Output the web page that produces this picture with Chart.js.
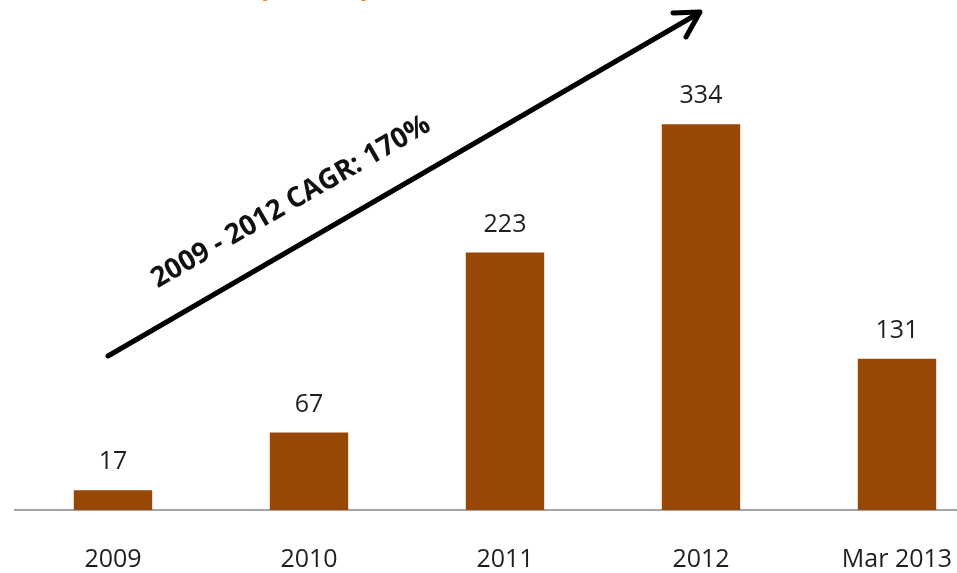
<!DOCTYPE html>
<html>
<head>
<meta charset="utf-8">
<script src="https://cdn.jsdelivr.net/npm/chart.js@4/dist/chart.umd.min.js"></script>
<style>
  html, body { margin: 0; padding: 0; background: #fff; overflow: hidden; }
  #wrap { width: 1000px; height: 602px; }
</style>
</head>
<body>
<div id="wrap"><canvas id="revenue" width="1000" height="602"></canvas></div>
<script>
// chart data
var periods = ["2009", "2010", "2011", "2012", "Mar 2013"];
var revenue = [17, 67, 223, 334, 131];
var cagrText = "2009 - 2012 CAGR: 170%";

var barColor = "#974706";
var textColor = "#1f1f1f";

// value above each bar
var valueLabels = {
  id: "valueLabels",
  afterDatasetsDraw: function(chart) {
    var ctx = chart.ctx;
    var meta = chart.getDatasetMeta(0);
    ctx.save();
    ctx.font = "25px 'Open Sans'";
    ctx.fillStyle = textColor;
    ctx.textAlign = "center";
    ctx.textBaseline = "middle";
    meta.data.forEach(function(bar, i) {
      ctx.fillText(revenue[i], bar.x, bar.y - 28);
    });
    ctx.restore();
  }
};

// growth arrow + CAGR text, cut-off title remnants
var cagrArrow = {
  id: "cagrArrow",
  afterDraw: function(chart) {
    var ctx = chart.ctx;
    ctx.save();

    // arrow
    ctx.strokeStyle = "#000";
    ctx.lineWidth = 5;
    ctx.lineCap = "round";
    ctx.lineJoin = "round";
    ctx.beginPath();
    ctx.moveTo(108, 356);
    ctx.lineTo(699, 13);
    ctx.stroke();
    ctx.beginPath();
    ctx.moveTo(673, 13);
    ctx.lineTo(700, 12);
    ctx.lineTo(686, 37);
    ctx.stroke();

    // rotated label
    ctx.translate(295, 209);
    ctx.rotate(-30 * Math.PI / 180);
    ctx.font = "bold 28px 'Open Sans'";
    var w = ctx.measureText(cagrText).width;
    ctx.scale(317 / w, 1);
    ctx.fillStyle = "#111";
    ctx.textAlign = "center";
    ctx.textBaseline = "alphabetic";
    ctx.fillText(cagrText, 0, 0);
    ctx.restore();

    // bottom of the title parentheses (title cropped off)
    ctx.save();
    ctx.font = "bold 34px 'Open Sans'";
    ctx.fillStyle = "#e46c0a";
    ctx.textBaseline = "alphabetic";
    ctx.fillText("(", 257, -5);
    ctx.fillText(")", 360, -5);
    ctx.restore();
  }
};

var ctx1 = document.getElementById("revenue").getContext("2d");
var chart1 = new Chart(ctx1, {
  type: "bar",
  data: {
    labels: periods,
    datasets: [
      {
        label: "Revenue",
        data: revenue,
        backgroundColor: barColor,
        borderWidth: 0,
        barPercentage: 0.4,
        categoryPercentage: 1
      }
    ]
  },
  options: {
    responsive: false,
    animation: false,
    layout: {
      padding: { left: 15, right: 5, top: 48, bottom: 0 }
    },
    plugins: {
      legend: { display: false },
      title: { display: false },
      tooltip: { enabled: false }
    },
    scales: {
      x: {
        grid: { display: false },
        border: { display: true, color: "#a6a6a6", width: 2 },
        ticks: {
          color: textColor,
          font: { family: "'Open Sans'", size: 25 },
          padding: 27,
          maxRotation: 0,
          autoSkip: false
        }
      },
      y: {
        display: false,
        min: 0,
        max: 400
      }
    }
  },
  plugins: [valueLabels, cagrArrow]
});
</script>
</body>
</html>
